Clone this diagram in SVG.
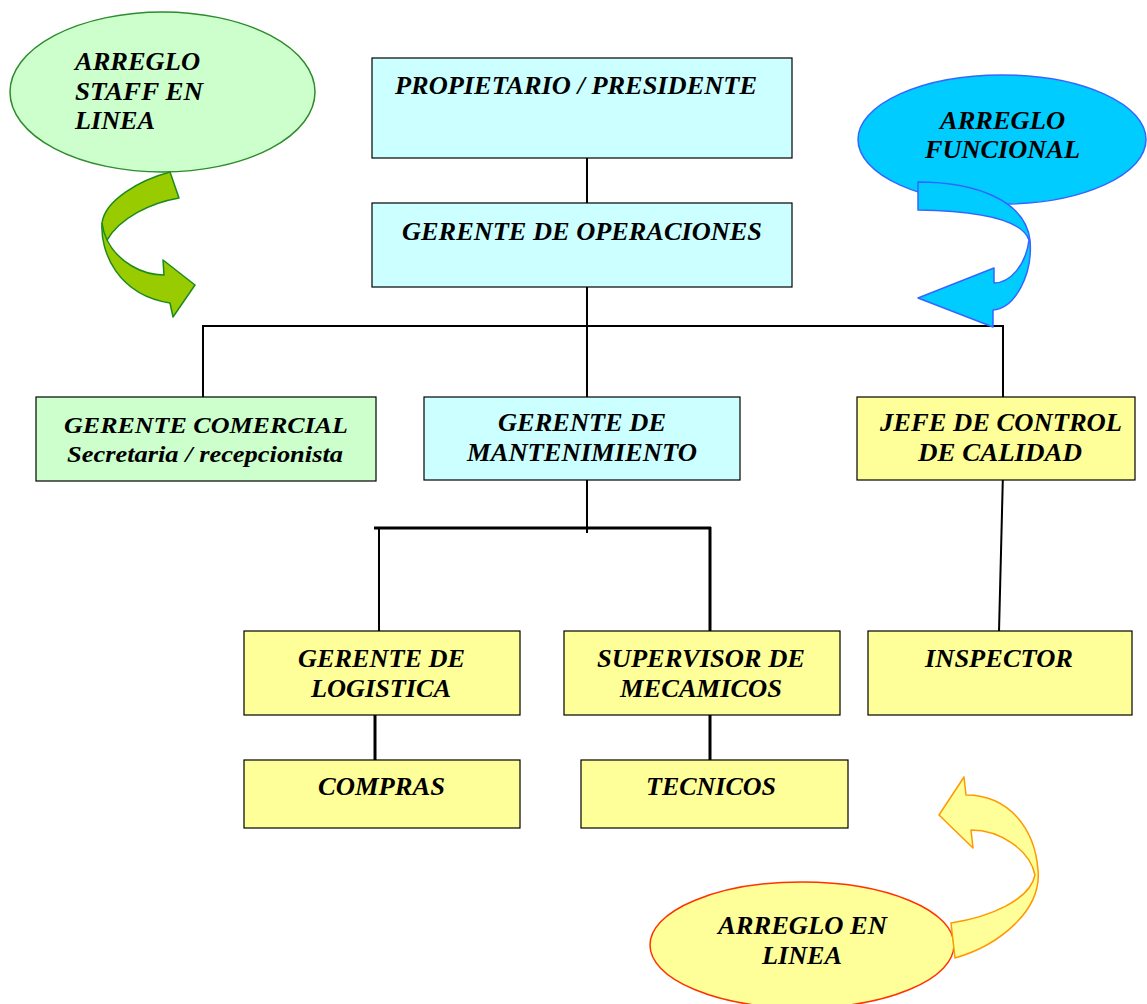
<svg xmlns="http://www.w3.org/2000/svg" width="1147" height="1004" viewBox="0 0 1147 1004">
  <style>
    .box { stroke: #000; stroke-width: 1.2; }
    .cyan { fill: #ccffff; }
    .green { fill: #ccffcc; }
    .yellow { fill: #ffff99; }
    text { font-family: "Liberation Serif", "Times New Roman", serif; font-weight: bold; font-style: italic; font-size: 26px; fill: #000; }
    .sm { font-size: 24px; }
    .link { stroke: #000; stroke-width: 2; fill: none; }
    .thick { stroke-width: 3; }
  </style>

  <rect width="1147" height="1004" fill="#fff"/>

  <!-- connectors -->
  <g id="connectors">
    <line class="link" x1="587" y1="158" x2="587" y2="203"/>
    <line class="link" x1="587" y1="287" x2="587" y2="413"/>
    <line class="link" x1="202" y1="326" x2="1004" y2="326"/>
    <line class="link" x1="203" y1="325" x2="203" y2="407"/>
    <line class="link" x1="1003" y1="325" x2="1003" y2="397"/>
    <line class="link" x1="587" y1="470" x2="587" y2="533"/>
    <line class="link thick" x1="374" y1="528" x2="711" y2="528"/>
    <line class="link" x1="379" y1="527" x2="379" y2="639"/>
    <line class="link thick" x1="710" y1="527" x2="710" y2="641"/>
    <line class="link thick" x1="375" y1="707" x2="375" y2="769"/>
    <line class="link thick" x1="710" y1="707" x2="710" y2="760"/>
    <line class="link" x1="1003" y1="472" x2="999" y2="632"/>
  </g>

  <!-- org chart boxes -->
  <g id="presidente">
    <rect class="box cyan" x="372" y="58" width="420" height="100"/>
    <text x="395" y="94" textLength="362" lengthAdjust="spacingAndGlyphs">PROPIETARIO / PRESIDENTE</text>
  </g>
  <g id="operaciones">
    <rect class="box cyan" x="372" y="203" width="420" height="84"/>
    <text x="402" y="240" textLength="360" lengthAdjust="spacingAndGlyphs">GERENTE DE OPERACIONES</text>
  </g>
  <g id="comercial">
    <rect class="box green" x="36" y="397" width="340" height="84"/>
    <text class="sm" x="64" y="433" textLength="284" lengthAdjust="spacingAndGlyphs">GERENTE COMERCIAL</text>
    <text class="sm" x="67" y="462" textLength="276" lengthAdjust="spacingAndGlyphs">Secretaria / recepcionista</text>
  </g>
  <g id="mantenimiento">
    <rect class="box cyan" x="424" y="397" width="316" height="83"/>
    <text x="498" y="431" textLength="168" lengthAdjust="spacingAndGlyphs">GERENTE DE</text>
    <text x="467" y="461" textLength="230" lengthAdjust="spacingAndGlyphs">MANTENIMIENTO</text>
  </g>
  <g id="calidad">
    <rect class="box yellow" x="857" y="397" width="278" height="83"/>
    <text x="880" y="431" textLength="242" lengthAdjust="spacingAndGlyphs">JEFE DE CONTROL</text>
    <text x="918" y="461" textLength="164" lengthAdjust="spacingAndGlyphs">DE CALIDAD</text>
  </g>
  <g id="logistica">
    <rect class="box yellow" x="244" y="631" width="276" height="84"/>
    <text x="298" y="667" textLength="167" lengthAdjust="spacingAndGlyphs">GERENTE DE</text>
    <text x="311" y="697" textLength="140" lengthAdjust="spacingAndGlyphs">LOGISTICA</text>
  </g>
  <g id="supervisor">
    <rect class="box yellow" x="564" y="631" width="276" height="84"/>
    <text x="597" y="667" textLength="208" lengthAdjust="spacingAndGlyphs">SUPERVISOR DE</text>
    <text x="620" y="697" textLength="162" lengthAdjust="spacingAndGlyphs">MECAMICOS</text>
  </g>
  <g id="inspector">
    <rect class="box yellow" x="868" y="631" width="264" height="84"/>
    <text x="925" y="667" textLength="148" lengthAdjust="spacingAndGlyphs">INSPECTOR</text>
  </g>
  <g id="compras">
    <rect class="box yellow" x="244" y="760" width="276" height="68"/>
    <text x="318" y="795" textLength="127" lengthAdjust="spacingAndGlyphs">COMPRAS</text>
  </g>
  <g id="tecnicos">
    <rect class="box yellow" x="581" y="760" width="267" height="68"/>
    <text x="646" y="795" textLength="130" lengthAdjust="spacingAndGlyphs">TECNICOS</text>
  </g>

  <!-- callout: staff en linea -->
  <g id="arreglo-staff">
    <ellipse cx="162.5" cy="92" rx="152.5" ry="80" fill="#ccffcc" stroke="#2e8b2e" stroke-width="1.5"/>
    <path d="M170,172 C140,180 105,200 102,223 C100,252 118,295 170,303 L173,317 L195,285 L163,260 L164,275 C142,275 118,262 107,240 C120,218 150,203 179,198 Z" fill="#99cc00" stroke="#1e8a1e" stroke-width="1.5" stroke-linejoin="round"/>
    <path d="M102,223 C103,230 105,236 107,240" fill="none" stroke="#1e8a1e" stroke-width="1.5"/>
    <text x="75" y="70" textLength="125" lengthAdjust="spacingAndGlyphs">ARREGLO</text>
    <text x="75" y="100" textLength="128" lengthAdjust="spacingAndGlyphs">STAFF EN</text>
    <text x="75" y="129" textLength="80" lengthAdjust="spacingAndGlyphs">LINEA</text>
  </g>

  <!-- callout: funcional -->
  <g id="arreglo-funcional">
    <ellipse cx="1002" cy="139.5" rx="144" ry="64.5" fill="#00ccff" stroke="#3366ff" stroke-width="1.5"/>
    <path d="M918,182 C975,182 1025,200 1030,240 C1033,275 1015,308 993,310 L993,327 L918,298 L994,268 L994,283 C1010,283 1026,265 1029,240 C1022,220 980,211 918,210 Z" fill="#00ccff" stroke="#3366ff" stroke-width="1.5" stroke-linejoin="round"/>
    <text x="940" y="129" textLength="125" lengthAdjust="spacingAndGlyphs">ARREGLO</text>
    <text x="925" y="158" textLength="155" lengthAdjust="spacingAndGlyphs">FUNCIONAL</text>
  </g>

  <!-- callout: en linea -->
  <g id="arreglo-linea">
    <ellipse cx="802" cy="945" rx="152" ry="63" fill="#ffff99" stroke="#ff3300" stroke-width="1.5"/>
    <path d="M951,923 C990,917 1030,900 1035,875 C1030,850 1000,830 971,830 L973,848 L939,815 L964,777 L966,795 C1010,795 1035,830 1038,870 C1042,910 1000,945 955,958 Z" fill="#ffff99" stroke="#ff9900" stroke-width="1.5" stroke-linejoin="round"/>
    <text x="718" y="934" textLength="169" lengthAdjust="spacingAndGlyphs">ARREGLO EN</text>
    <text x="762" y="964" textLength="80" lengthAdjust="spacingAndGlyphs">LINEA</text>
  </g>
</svg>
